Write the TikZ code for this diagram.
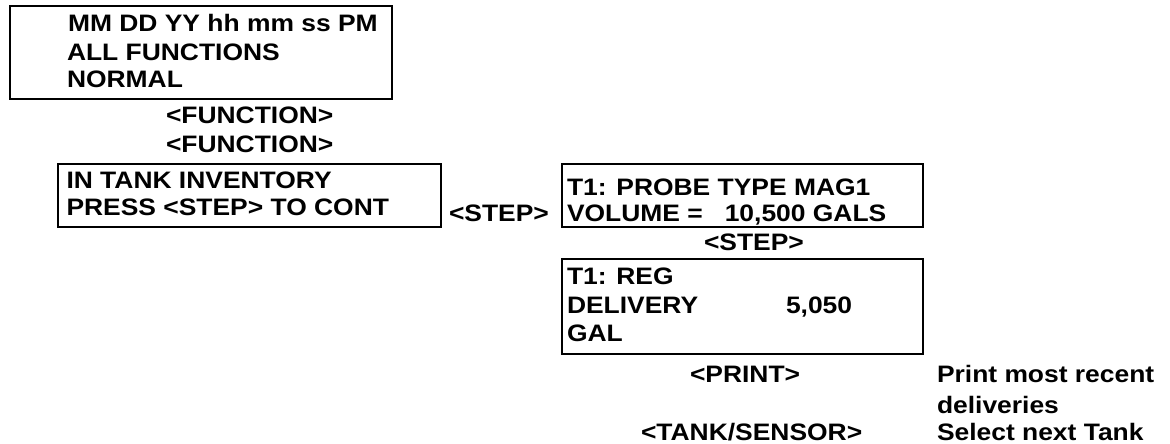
\documentclass[tikz,border=0pt]{standalone}
\usepackage{fontspec}
\newfontfamily\lab[FakeStretch=1.11]{Liberation Sans Bold}
\begin{document}
\begin{tikzpicture}[x=1pt,y=-1pt,
  box/.style={draw=black, line width=2pt, inner sep=0pt, outer sep=0pt, fill=none},
  txt/.style={anchor=base west, inner sep=0pt, outer sep=0pt, font=\lab\fontsize{23.8pt}{28pt}\selectfont}]
\useasboundingbox (0,0) rectangle (1170,444);
% boxes
\node[box, minimum width=382pt, minimum height=93pt] (b1) at (201,52.5) {};
\node[box, minimum width=383pt, minimum height=63.5pt] (b2) at (249.5,195.25) {};
\node[box, minimum width=361pt, minimum height=63pt] (b3) at (742.5,195.5) {};
\node[box, minimum width=361pt, minimum height=95pt] (b4) at (742.5,306) {};
% box 1 text
\node[txt] (t1a) at (68,32) {MM DD YY hh mm ss PM};
\node[txt] (t1b) at (67,60) {ALL FUNCTIONS};
\node[txt] (t1c) at (67,87.5) {NORMAL};
% keys
\node[txt] (k1) at (166,123) {<FUNCTION>};
\node[txt] (k2) at (166,152) {<FUNCTION>};
% box 2 text
\node[txt] (t2a) at (66.5,188) {IN TANK INVENTORY};
\node[txt] (t2b) at (66.5,215) {PRESS <STEP> TO CONT};
\node[txt] (k3) at (449,221) {<STEP>};
% box 3 text
\node[txt] (t3a) at (567,195) {T1: PROBE TYPE MAG1};
\node[txt] (t3b) at (567,221) {VOLUME =\ \ \ 10,500 GALS};
\node[txt] (k4) at (704,250) {<STEP>};
% box 4 text
\node[txt] (t4a) at (567,284.5) {T1: REG};
\node[txt] (t4b) at (567,313) {DELIVERY};
\node[txt] (t4c) at (786,313) {5,050};
\node[txt] (t4d) at (567,341) {GAL};
% bottom
\node[txt] (k5) at (690,382) {<PRINT>};
\node[txt] (d1) at (937,382) {Print most recent};
\node[txt] (d2) at (937,413) {deliveries};
\node[txt] (k6) at (641,440) {<TANK/SENSOR>};
\node[txt] (d3) at (937,440) {Select next Tank};
\end{tikzpicture}
\end{document}
